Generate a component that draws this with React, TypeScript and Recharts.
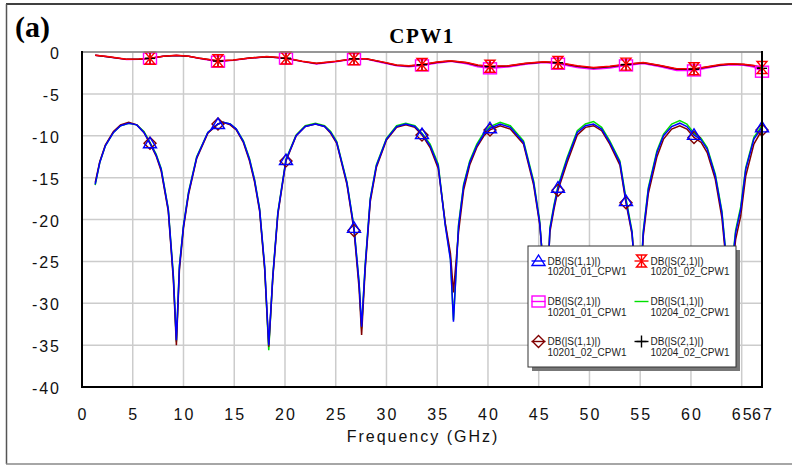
import React from 'react'
import { LineChart, Line, XAxis, YAxis, CartesianGrid } from 'recharts'

// frequency grid for the S11 traces (denser around the nulls)
const freqS11 = [
  1.3, 1.75, 2.3, 3.1, 3.8, 4.6, 5.4, 6.1, 6.7, 7.3, 7.8, 8.5, 9.0, 9.3,
  9.6, 10.0, 10.5, 11.3, 12.4, 13.4, 13.9, 14.6, 15.2, 15.9, 16.5, 17.0, 17.5, 18.0, 18.4,
  18.8, 19.3, 20.1, 21.1, 22.0, 23.0, 23.9, 24.5, 25.1, 26.1, 26.8, 27.3, 27.55,
  27.9, 28.4, 29.0, 30.0, 31.0, 31.9, 32.8, 33.5, 34.3, 35.1, 35.8, 36.3, 36.6,
  37.1, 37.6, 38.2, 38.9, 39.6, 40.2, 41.2, 42.2, 43.5, 44.5, 45.1, 45.45, 45.7,
  46.1, 46.5, 46.9, 47.8, 48.8, 49.6, 50.4, 51.2, 52.0, 53.0, 53.6, 54.2, 54.55, 54.8,
  55.1, 55.3, 55.8, 56.65, 57.3, 58.1, 58.9, 59.6, 60.3, 61.0, 61.6, 62.4, 63.05, 63.5, 63.8,
  64.1, 64.4, 64.9, 65.4, 66.2, 67.0,
]

const s11_10201_01 = [
  -15.8, -13.2, -11.2, -9.6, -8.8, -8.5, -8.7, -9.6, -10.9, -12.3, -14.0, -18.8, -26.8, -34.4,
  -25.6, -20.8, -16.8, -12.6, -9.6, -8.6, -8.4, -8.6, -9.2, -10.7, -12.8, -15.3, -18.8, -25.6, -35.0,
  -26.8, -19.2, -12.9, -10.0, -8.9, -8.6, -8.9, -9.6, -10.8, -15.6, -21.0, -27.6, -32.8,
  -25.6, -17.6, -13.6, -10.4, -8.9, -8.6, -8.9, -9.8, -11.2, -13.6, -20.8, -24.8, -32.2,
  -20.8, -16.0, -13.2, -11.2, -9.8, -9.1, -8.6, -9.0, -10.8, -15.6, -20.4, -26.0, -33.0,
  -21.2, -18.5, -16.2, -12.8, -9.6, -8.8, -8.6, -9.2, -10.8, -13.2, -17.8, -21.6, -28.0, -35.5,
  -26.0, -21.6, -16.4, -12.0, -10.0, -8.9, -8.5, -8.9, -9.9, -10.5, -11.6, -14.8, -19.2, -25.0, -33.0,
  -25.0, -21.6, -18.8, -14.0, -10.4, -9.0,
]

const s11_10201_02 = [
  -15.6, -13.1, -11.1, -9.5, -8.7, -8.4, -8.7, -9.6, -10.9, -12.4, -14.2, -19.0, -27.2, -35.0,
  -26.0, -21.0, -17.0, -12.7, -9.7, -8.6, -8.4, -8.7, -9.3, -10.8, -13.0, -15.5, -19.0, -26.0, -35.2,
  -27.0, -19.4, -13.0, -10.0, -8.9, -8.6, -8.9, -9.7, -10.9, -15.8, -21.3, -28.2, -33.8,
  -26.0, -17.9, -13.8, -10.5, -9.0, -8.7, -9.0, -9.9, -11.4, -13.9, -20.5, -24.0, -28.7,
  -21.5, -16.5, -13.5, -11.4, -10.0, -9.3, -8.8, -9.2, -11.0, -15.9, -20.6, -25.5, -31.5,
  -21.5, -18.8, -16.5, -13.2, -9.9, -9.0, -8.8, -9.4, -11.0, -13.5, -18.0, -21.8, -27.0, -34.5,
  -26.5, -22.0, -16.9, -12.5, -10.4, -9.2, -8.8, -9.2, -10.2, -10.8, -12.0, -15.2, -19.8, -25.5, -32.0,
  -26.0, -22.4, -19.6, -14.8, -11.0, -9.3,
]

const s11_10204_02 = [
  -15.9, -13.2, -11.2, -9.6, -8.8, -8.5, -8.7, -9.5, -10.8, -12.2, -13.9, -18.7, -26.6, -34.6,
  -25.5, -20.7, -16.7, -12.5, -9.6, -8.6, -8.4, -8.6, -9.2, -10.6, -12.7, -15.2, -18.7, -25.8, -35.6,
  -26.7, -19.1, -12.8, -9.9, -8.8, -8.5, -8.8, -9.5, -10.7, -15.5, -20.9, -27.5, -33.0,
  -25.4, -17.5, -13.5, -10.3, -8.8, -8.5, -8.8, -9.7, -11.0, -13.4, -20.6, -24.6, -32.0,
  -20.6, -15.8, -13.0, -11.0, -9.6, -8.9, -8.4, -8.8, -10.6, -15.4, -20.2, -26.0, -33.5,
  -21.0, -18.3, -16.0, -12.6, -9.4, -8.6, -8.3, -9.0, -10.6, -13.0, -17.5, -21.4, -28.5, -38.0,
  -25.8, -21.4, -16.2, -11.8, -9.8, -8.6, -8.2, -8.6, -9.7, -10.3, -11.4, -14.6, -19.0, -24.8, -33.0,
  -24.8, -21.3, -18.5, -13.8, -10.2, -8.8,
]

// frequency grid for the S21 traces
const freqS21 = [
  1.3, 2.5, 4.4, 5.6, 6.7, 8.0, 9.3, 10.5, 11.6, 13.4, 14.9, 16.5, 18.2, 20.1, 21.7, 23.1,
  25.0, 26.8, 28.0, 29.5, 31.0, 32.2, 33.5, 35.0, 36.3, 37.9, 39.0, 40.2, 41.9, 43.7, 45.5,
  46.9, 48.8, 50.4, 52.0, 53.6, 55.3, 57.0, 58.6, 60.3, 61.6, 62.9, 64.0, 65.2, 66.2, 67.0,
]

const s21_10201_01 = [
  -0.4, -0.58, -0.9, -0.88, -0.78, -0.52, -0.42, -0.52, -0.78, -1.15, -1.0, -0.75, -0.58, -0.78, -1.15, -1.42,
  -1.15, -0.85, -0.85, -1.25, -1.65, -1.75, -1.6, -1.3, -1.12, -1.4, -1.75, -1.95, -1.8, -1.45, -1.25,
  -1.4, -1.85, -2.05, -1.9, -1.6, -1.38, -1.75, -2.2, -2.2, -1.9, -1.62, -1.52, -1.58, -1.8, -2.35,
]

const s21_10201_02 = [
  -0.38, -0.55, -0.86, -0.85, -0.74, -0.5, -0.4, -0.5, -0.74, -1.05, -0.95, -0.72, -0.55, -0.72, -1.1, -1.35,
  -1.1, -0.8, -0.8, -1.15, -1.55, -1.65, -1.5, -1.2, -1.05, -1.25, -1.55, -1.7, -1.65, -1.35, -1.15,
  -1.25, -1.65, -1.85, -1.7, -1.45, -1.25, -1.6, -2.0, -2.0, -1.75, -1.5, -1.4, -1.45, -1.6, -1.85,
]

const s21_10204_02 = [
  -0.39, -0.56, -0.88, -0.86, -0.76, -0.5, -0.41, -0.51, -0.76, -1.08, -0.97, -0.73, -0.56, -0.74, -1.12, -1.38,
  -1.12, -0.82, -0.82, -1.18, -1.58, -1.68, -1.52, -1.22, -1.07, -1.28, -1.6, -1.75, -1.68, -1.38, -1.18,
  -1.28, -1.7, -1.9, -1.75, -1.5, -1.28, -1.65, -2.05, -2.05, -1.8, -1.55, -1.44, -1.5, -1.65, -1.95,
]

const markerFreqs = [6.7, 13.4, 20.1, 26.8, 33.5, 40.2, 46.9, 53.6, 60.3, 67.0]
const xTicks = [0, 5, 10, 15, 20, 25, 30, 35, 40, 45, 50, 55, 60, 65, 67]
const yTicks = [0, -5, -10, -15, -20, -25, -30, -35, -40]

const legendItems = [
  { kind: 'tri', color: '#0000ff', l1: 'DB(|S(1,1)|)', l2: '10201_01_CPW1', col: 0, row: 0 },
  { kind: 'hour', color: '#ff0000', l1: 'DB(|S(2,1)|)', l2: '10201_02_CPW1', col: 1, row: 0 },
  { kind: 'square', color: '#ff00ff', l1: 'DB(|S(2,1)|)', l2: '10201_01_CPW1', col: 0, row: 1 },
  { kind: 'none', color: '#00e000', l1: 'DB(|S(1,1)|)', l2: '10204_02_CPW1', col: 1, row: 1 },
  { kind: 'diamond', color: '#800000', l1: 'DB(|S(1,1)|)', l2: '10201_02_CPW1', col: 0, row: 2 },
  { kind: 'plus', color: '#000000', l1: 'DB(|S(2,1)|)', l2: '10204_02_CPW1', col: 1, row: 2 },
]

const toSeries = (fs: number[], vs: number[]) => fs.map((f, i) => ({ f, v: vs[i] }))

const sansFont = '"Liberation Sans", Arial, sans-serif'
const serifFont = '"Liberation Serif", "Times New Roman", serif'

function Marker({ kind, x, y, color }: { kind: string; x: number; y: number; color: string }) {
  const common = { fill: 'none', stroke: color, strokeWidth: 1.4 }
  if (kind === 'tri')
    return <polygon points={`${x},${y - 6} ${x - 6.5},${y + 4.5} ${x + 6.5},${y + 4.5}`} {...common} />
  if (kind === 'diamond')
    return <polygon points={`${x},${y - 6} ${x + 6},${y} ${x},${y + 6} ${x - 6},${y}`} {...common} />
  if (kind === 'square')
    return <rect x={x - 6.5} y={y - 5.5} width={13} height={11} {...common} />
  if (kind === 'hour')
    return (
      <g {...common}>
        <polygon points={`${x - 5},${y - 6} ${x + 5},${y - 6} ${x - 5},${y + 6} ${x + 5},${y + 6}`} />
        <line x1={x} y1={y - 6} x2={x} y2={y + 6} />
      </g>
    )
  if (kind === 'plus')
    return (
      <g {...common}>
        <line x1={x - 5} y1={y} x2={x + 5} y2={y} />
        <line x1={x} y1={y - 6} x2={x} y2={y + 6} />
      </g>
    )
  return null
}

const makeDot = (kind: string, color: string) => (props: any) => {
  const { cx, cy, payload, index } = props
  const key = `${kind}-${index}`
  if (!markerFreqs.includes(payload.f) || kind === 'none') return <g key={key} />
  return (
    <g key={key}>
      <Marker kind={kind} x={cx} y={cy} color={color} />
    </g>
  )
}

function XTick({ x, payload }: any) {
  return (
    <text x={x + 1} y={420} textAnchor="middle" fontFamily={sansFont} fontSize={16} letterSpacing={2} fill="#111">
      {payload.value}
    </text>
  )
}

function YTick({ y, payload }: any) {
  return (
    <text x={61} y={y + 7} textAnchor="end" fontFamily={sansFont} fontSize={16} letterSpacing={2} fill="#111">
      {payload.value}
    </text>
  )
}

function Legend() {
  const colX = [538.5, 641.5]
  const rowY = [261, 301.5, 341.5]
  return (
    <g>
      <rect x={532} y={250} width={208} height={121} fill="#777" />
      <rect x={528} y={246} width={208} height={121} fill="#fff" stroke="#333" strokeWidth={1} />
      {legendItems.map((it, i) => {
        const cx = colX[it.col]
        const cy = rowY[it.row]
        return (
          <g key={i}>
            <line x1={cx - 7} y1={cy} x2={cx + 7} y2={cy} stroke={it.color} strokeWidth={1.4} />
            <Marker kind={it.kind} x={cx} y={cy} color={it.color} />
            <text x={cx + 9} y={cy + 3.6} fontFamily={sansFont} fontSize={10} fill="#222">{it.l1}</text>
            <text x={cx + 9} y={cy + 14.3} fontFamily={sansFont} fontSize={10} fill="#222">{it.l2}</text>
          </g>
        )
      })}
    </g>
  )
}

export default function App() {
  const series = [
    { name: 's11_04', data: toSeries(freqS11, s11_10204_02), color: '#00e000', kind: 'none' },
    { name: 's11_02', data: toSeries(freqS11, s11_10201_02), color: '#800000', kind: 'diamond' },
    { name: 's11_01', data: toSeries(freqS11, s11_10201_01), color: '#0000ff', kind: 'tri' },
    { name: 's21_01', data: toSeries(freqS21, s21_10201_01), color: '#ff00ff', kind: 'square' },
    { name: 's21_04', data: toSeries(freqS21, s21_10204_02), color: '#000000', kind: 'plus' },
    { name: 's21_02', data: toSeries(freqS21, s21_10201_02), color: '#ff0000', kind: 'hour' },
  ]

  return (
    <div style={{ position: 'absolute', left: 0, top: 0, width: 792, height: 465, background: '#fff' }}>
      <LineChart width={792} height={465} margin={{ top: 52, right: 30, bottom: 0, left: 0 }}>
        <CartesianGrid stroke="#cccccc" strokeWidth={1.5} />
        <XAxis
          dataKey="f"
          type="number"
          domain={[0, 67]}
          ticks={xTicks}
          interval={0}
          height={78}
          axisLine={false}
          tickLine={false}
          tick={<XTick />}
          allowDuplicatedCategory={false}
        />
        <YAxis
          type="number"
          domain={[-40, 0]}
          ticks={yTicks}
          interval={0}
          width={82}
          axisLine={false}
          tickLine={false}
          tick={<YTick />}
        />
        {series.map((s) => (
          <Line
            key={s.name}
            data={s.data}
            dataKey="v"
            type="linear"
            stroke={s.color}
            strokeWidth={1.5}
            dot={makeDot(s.kind, s.color)}
            activeDot={false}
            isAnimationActive={false}
          />
        ))}
      </LineChart>
      <svg width={792} height={465} style={{ position: 'absolute', left: 0, top: 0, pointerEvents: 'none' }}>
        {/* outer frame */}
        <line x1={6} y1={4} x2={792} y2={4} stroke="#000" strokeWidth={1.5} />
        <line x1={6.5} y1={4} x2={6.5} y2={464} stroke="#555" strokeWidth={1.5} />
        <line x1={6} y1={464} x2={792} y2={464} stroke="#888" strokeWidth={1.5} />
        {/* plot border */}
        <line x1={82} y1={52} x2={762} y2={52} stroke="#808080" strokeWidth={1.5} />
        <line x1={82} y1={51} x2={82} y2={388} stroke="#000" strokeWidth={2} />
        <line x1={762} y1={51} x2={762} y2={388} stroke="#000" strokeWidth={2} />
        <line x1={81} y1={387} x2={763} y2={387} stroke="#000" strokeWidth={2} />
        <text x={15} y={37} fontFamily={serifFont} fontWeight="bold" fontSize={30}>(a)</text>
        <text x={422} y={43} textAnchor="middle" fontFamily={serifFont} fontWeight="bold" fontSize={21} letterSpacing={1.5}>CPW1</text>
        <text x={423} y={442} textAnchor="middle" fontFamily={sansFont} fontSize={16} letterSpacing={2} fill="#111">Frequency (GHz)</text>
        <Legend />
      </svg>
    </div>
  )
}
